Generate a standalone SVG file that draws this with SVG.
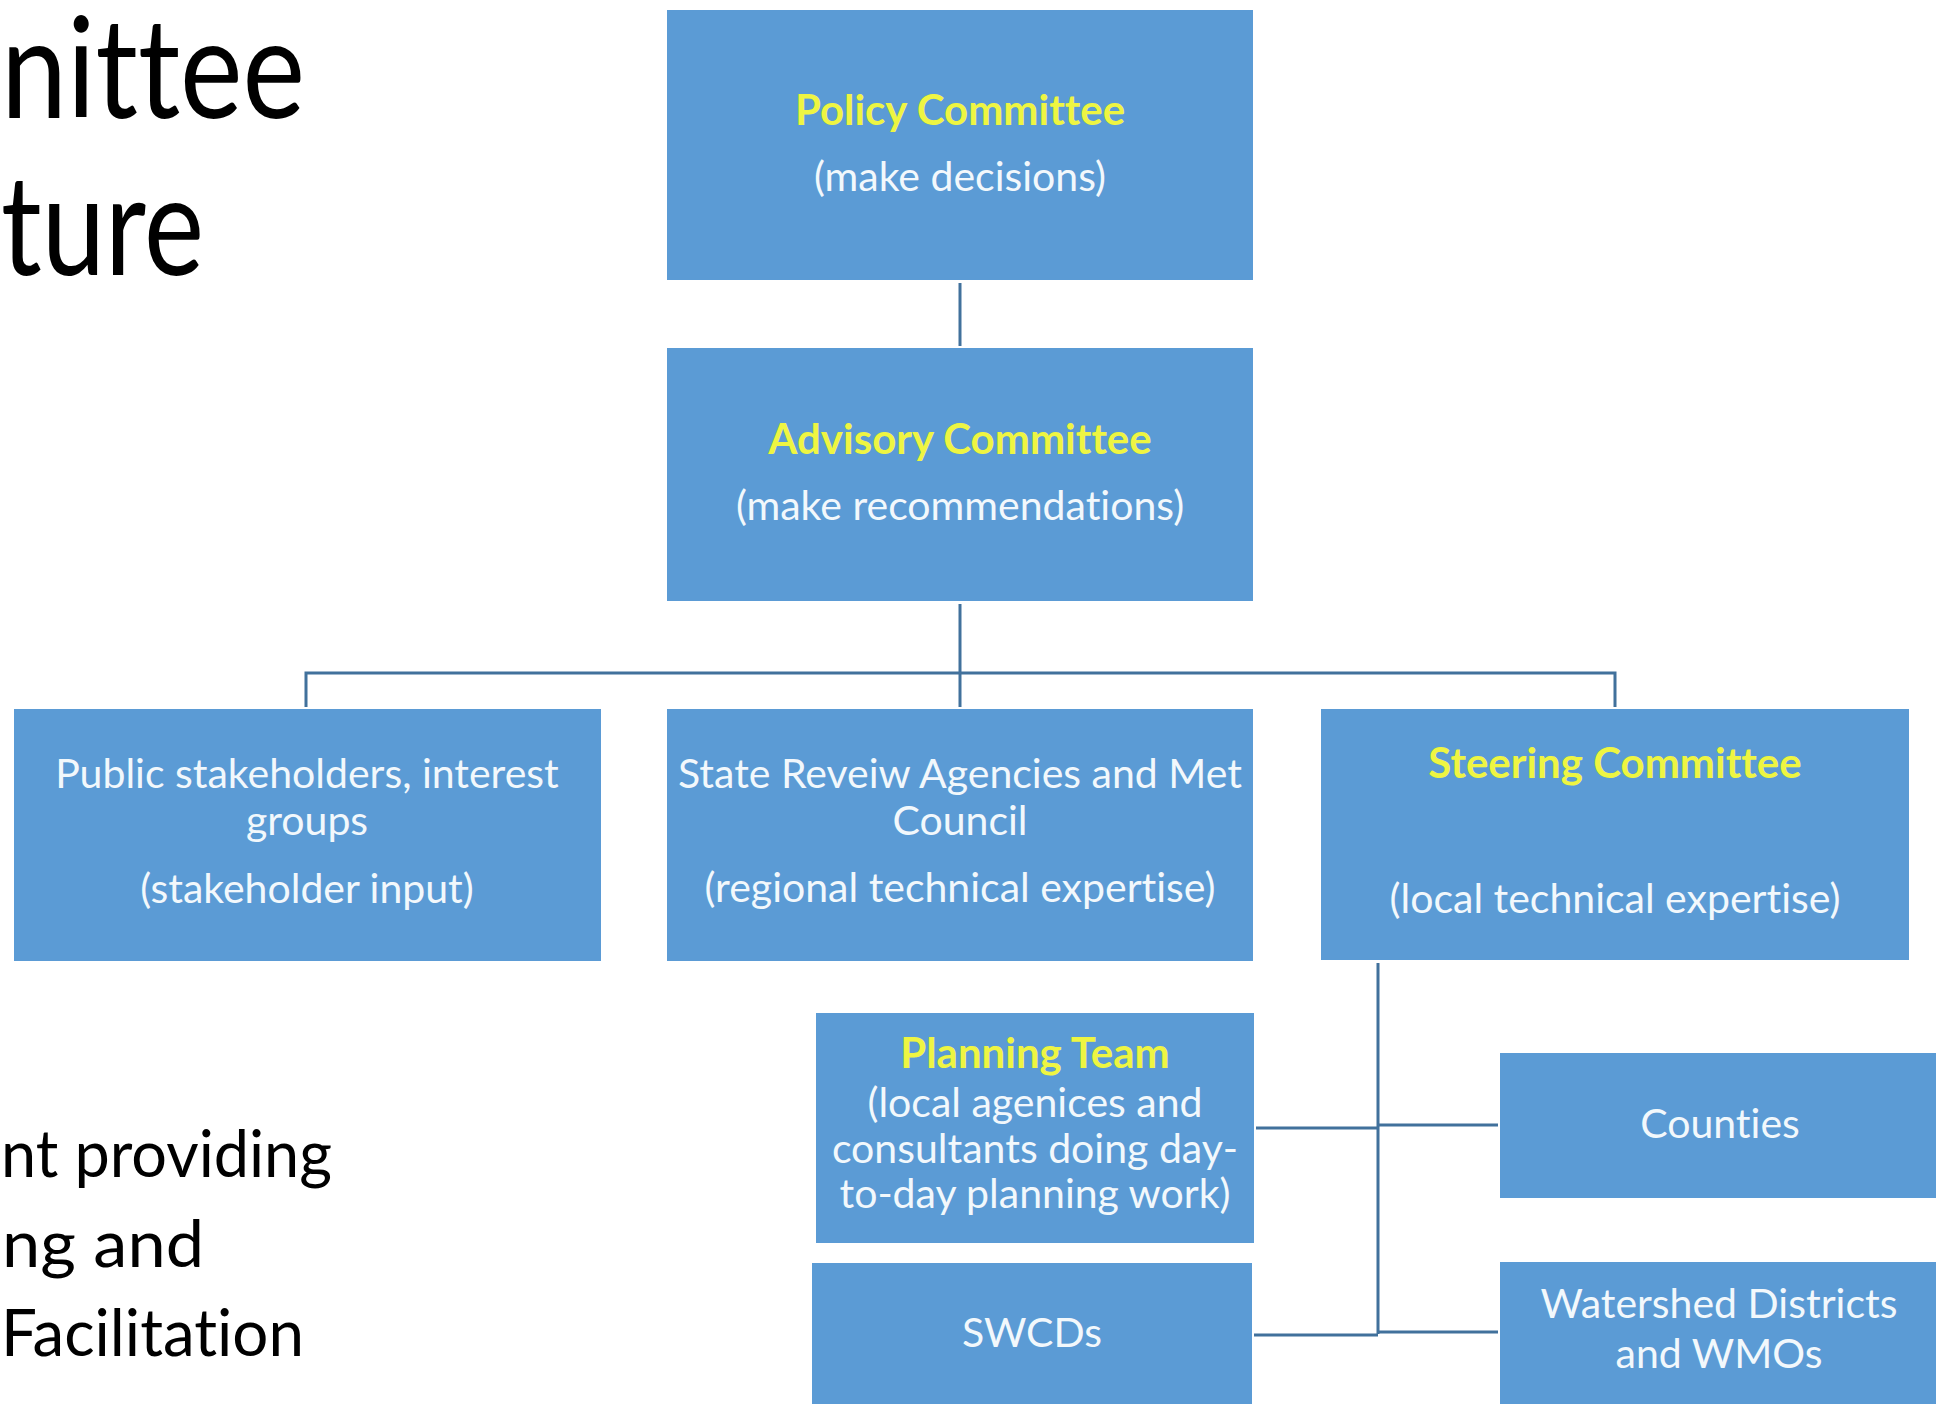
<svg xmlns="http://www.w3.org/2000/svg" width="1936" height="1404" viewBox="0 0 1936 1404">
<style>
text{font-variant-ligatures:none;font-feature-settings:"liga" 0,"dlig" 0;}
.box{fill:#5B9BD5;}
.conn{stroke:#41719C;stroke-width:3;fill:none;}
.t{font-family:Lato,"Open Sans","Liberation Sans",sans-serif;font-size:41px;fill:#F2F8FC;text-anchor:middle;}
.h{font-family:Lato,"Open Sans","Liberation Sans",sans-serif;font-size:42px;font-weight:bold;fill:#EEF542;text-anchor:middle;}
.big{font-family:Lato,"Open Sans","Liberation Sans",sans-serif;fill:#000;}
</style>
<rect width="1936" height="1404" fill="#FFFFFF"/>
<g id="title">
<text class="big" x="1" y="118" font-size="139" textLength="304" lengthAdjust="spacingAndGlyphs">nittee</text>
<text class="big" x="1" y="275" font-size="139" textLength="203" lengthAdjust="spacingAndGlyphs">ture</text>
</g>
<g id="bullets">
<text class="big" x="1" y="1177" font-size="66" textLength="331" lengthAdjust="spacingAndGlyphs">nt providing</text>
<text class="big" x="2" y="1267" font-size="66" textLength="202" lengthAdjust="spacingAndGlyphs">ng and</text>
<text class="big" x="1" y="1356" font-size="66" textLength="303" lengthAdjust="spacingAndGlyphs">Facilitation</text>
</g>
<g id="connectors">
<line class="conn" x1="960" y1="283" x2="960" y2="346"/>
<line class="conn" x1="960" y1="604" x2="960" y2="707"/>
<polyline class="conn" points="306,707 306,673 1615,673 1615,707"/>
<line class="conn" x1="1378" y1="963" x2="1378" y2="1334"/>
<line class="conn" x1="1256" y1="1128" x2="1378" y2="1128"/>
<line class="conn" x1="1378" y1="1125" x2="1498" y2="1125"/>
<line class="conn" x1="1254" y1="1335" x2="1378" y2="1335"/>
<line class="conn" x1="1378" y1="1332" x2="1498" y2="1332"/>
</g>
<g id="policy">
<rect class="box" x="667" y="10" width="586" height="270"/>
<text class="h" x="960" y="125">Policy Committee</text>
<text class="t" x="960" y="191">(make decisions)</text>
</g>
<g id="advisory">
<rect class="box" x="667" y="348" width="586" height="253"/>
<text class="h" x="960" y="454">Advisory Committee</text>
<text class="t" x="960" y="520">(make recommendations)</text>
</g>
<g id="public">
<rect class="box" x="14" y="709" width="587" height="252"/>
<text class="t" x="307" y="788">Public stakeholders, interest</text>
<text class="t" x="307" y="835">groups</text>
<text class="t" x="307" y="903">(stakeholder input)</text>
</g>
<g id="state">
<rect class="box" x="667" y="709" width="586" height="252"/>
<text class="t" x="960" y="788">State Reveiw Agencies and Met</text>
<text class="t" x="960" y="835">Council</text>
<text class="t" x="960" y="902">(regional technical expertise)</text>
</g>
<g id="steering">
<rect class="box" x="1321" y="709" width="588" height="251"/>
<text class="h" x="1615" y="778">Steering Committee</text>
<text class="t" x="1615" y="913">(local technical expertise)</text>
</g>
<g id="planning">
<rect class="box" x="816" y="1013" width="438" height="230"/>
<text class="h" x="1035" y="1068">Planning Team</text>
<text class="t" x="1035" y="1117">(local agenices and</text>
<text class="t" x="1035" y="1163">consultants doing day-</text>
<text class="t" x="1035" y="1208">to-day planning work)</text>
</g>
<g id="swcds">
<rect class="box" x="812" y="1263" width="440" height="150"/>
<text class="t" x="1032" y="1347">SWCDs</text>
</g>
<g id="counties">
<rect class="box" x="1500" y="1053" width="446" height="145"/>
<text class="t" x="1720" y="1138">Counties</text>
</g>
<g id="watershed">
<rect class="box" x="1500" y="1262" width="446" height="150"/>
<text class="t" x="1719" y="1318">Watershed Districts</text>
<text class="t" x="1719" y="1368">and WMOs</text>
</g>
</svg>
